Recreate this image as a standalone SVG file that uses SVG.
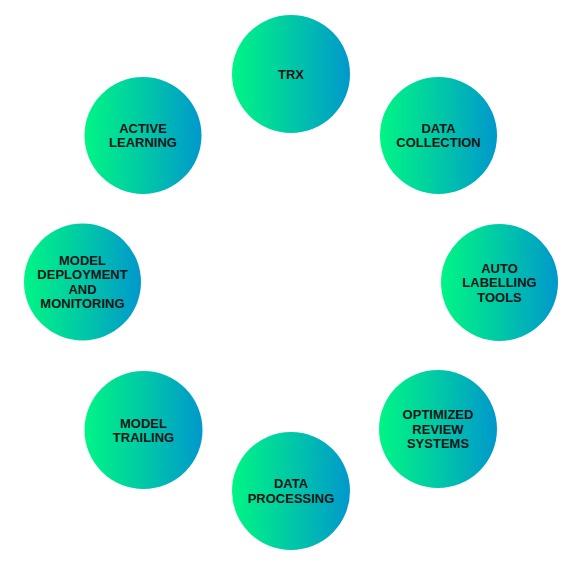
<svg xmlns="http://www.w3.org/2000/svg" width="572" height="564" viewBox="0 0 572 564">
<defs>
<linearGradient id="g" x1="0" y1="0" x2="1" y2="0">
<stop offset="0" stop-color="#00F585"/>
<stop offset="0.5" stop-color="#00C9A6"/>
<stop offset="1" stop-color="#0098CC"/>
</linearGradient>
</defs>
<style>
.c{fill:url(#g)}
.t{font-family:"Liberation Sans",Arial,sans-serif;font-weight:700;font-size:13px;fill:#151515;text-anchor:middle}
</style>
<rect width="572" height="564" fill="#fff"/>
<g id="connectors"></g>
<g id="trx"><circle class="c" cx="291" cy="74" r="59"/><text class="t" x="291" y="78.5">TRX</text></g>
<g id="data-collection"><circle class="c" cx="438.5" cy="135.5" r="58.5"/><text class="t"><tspan x="438.5" y="132.5">DATA</tspan><tspan x="438.5" y="147.1">COLLECTION</tspan></text></g>
<g id="auto-labelling"><circle class="c" cx="499.5" cy="282.5" r="58.5"/><text class="t"><tspan x="499.5" y="272.5">AUTO</tspan><tspan x="499.5" y="287.1">LABELLING</tspan><tspan x="499.5" y="301.7">TOOLS</tspan></text></g>
<g id="optimized-review"><circle class="c" cx="438" cy="429" r="59"/><text class="t"><tspan x="438" y="419.1">OPTIMIZED</tspan><tspan x="438" y="433.7">REVIEW</tspan><tspan x="438" y="448.3">SYSTEMS</tspan></text></g>
<g id="data-processing"><circle class="c" cx="291" cy="491" r="59"/><text class="t"><tspan x="291" y="488">DATA</tspan><tspan x="291" y="502.6">PROCESSING</tspan></text></g>
<g id="model-trailing"><circle class="c" cx="143.5" cy="430" r="59"/><text class="t"><tspan x="143.5" y="427.5">MODEL</tspan><tspan x="143.5" y="442.1">TRAILING</tspan></text></g>
<g id="model-deployment"><circle class="c" cx="82.5" cy="282" r="58.5"/><text class="t"><tspan x="82.5" y="264.5">MODEL</tspan><tspan x="82.5" y="279.1">DEPLOYMENT</tspan><tspan x="82.5" y="293.7">AND</tspan><tspan x="82.5" y="308.3">MONITORING</tspan></text></g>
<g id="active-learning"><circle class="c" cx="143" cy="135.5" r="58.5"/><text class="t"><tspan x="143" y="132.5">ACTIVE</tspan><tspan x="143" y="147.1">LEARNING</tspan></text></g>
</svg>
